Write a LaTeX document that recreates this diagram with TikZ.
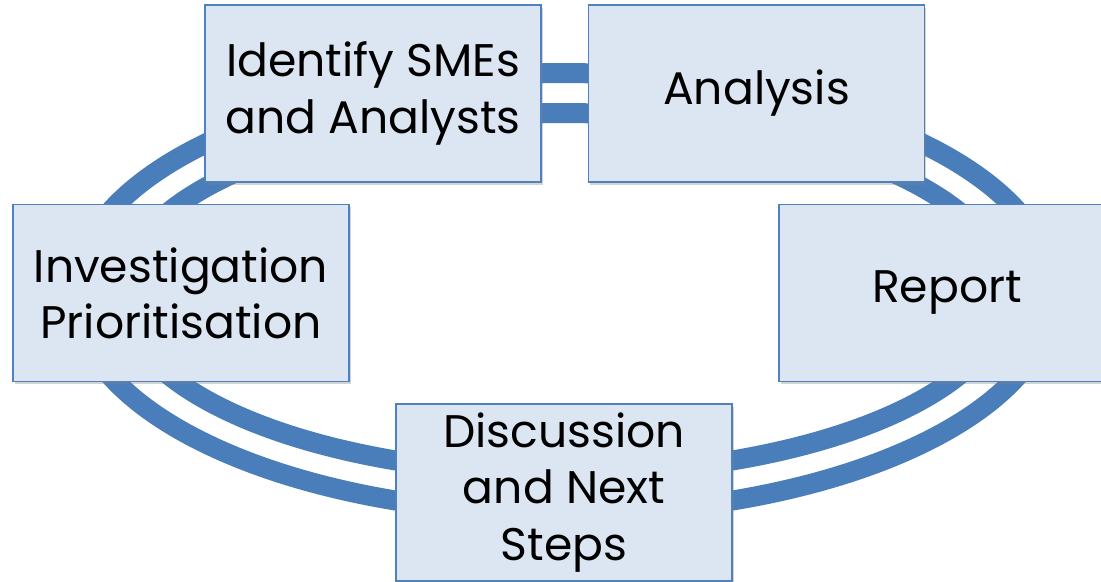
\documentclass[tikz,border=0pt]{standalone}
\usepackage{fontspec}
\setmainfont{Poppins}
\usepackage{tikz}
\usetikzlibrary{positioning,shadows}
\definecolor{ringblue}{HTML}{4A7EBB}
\definecolor{boxfill}{HTML}{DCE6F2}
\definecolor{boxline}{HTML}{4F81BD}

\begin{document}
\begin{tikzpicture}
 	[x=0.02cm, y=-0.02cm, font=\fontsize{26}{32}\selectfont,
 	% STYLES
 	% The ring style is used to draw the two loops behind the steps
 	ring/.style={draw=ringblue, line width=0.4cm},
 	% The stage style is used to draw the steps of the process
 	stage/.style={rectangle, draw=boxline, line width=0.9pt, fill=boxfill, inner sep=2pt, minimum width=6.72cm, minimum height=3.54cm, align=center, drop shadow={shadow xshift=1pt, shadow yshift=-1.5pt, opacity=0.35}}]
 	
 	\useasboundingbox (0,0) rectangle (1101,581);
 	\clip (0,0) rectangle (1101,581);
 	
 	% the two rings behind the boxes
 	\draw[ring] (564,293.5) ellipse [x radius=9.78cm, y radius=4.41cm];
 	\draw[ring] (564,293.5) ellipse [x radius=8.86cm, y radius=3.61cm];
 	
 	% top
 	\node [stage] (Ident) at (373,93.5) {Identify SMEs\\and Analysts};
 	\node [stage, right = 0.92cm of Ident] (Analysis) {Analysis};
 	% left and right
 	\node [stage] (Invest) at (181,293) {Investigation\\Prioritisation};
 	\node [stage] (Report) at (947,293) {Report};
 	% bottom
 	\node [stage] (Discuss) at (564,492.5) {Discussion\\and Next\\Steps};
 	
\end{tikzpicture}
\end{document}
